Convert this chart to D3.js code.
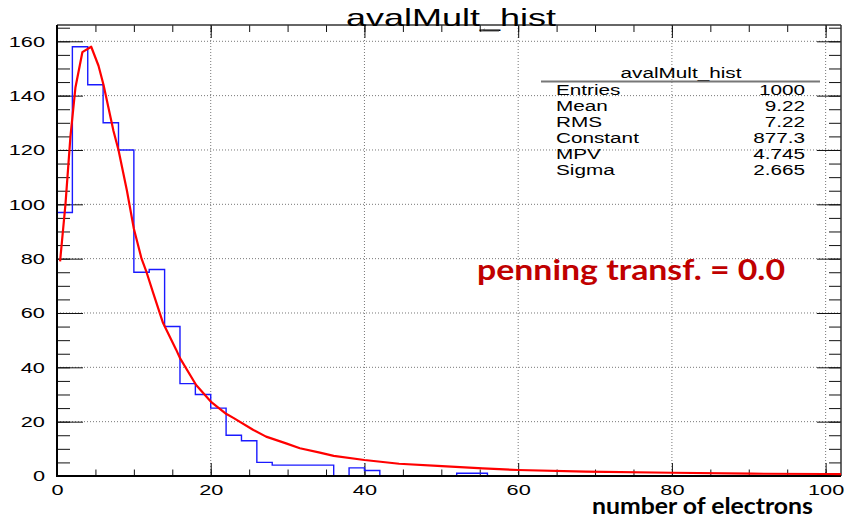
<!DOCTYPE html>
<html><head><meta charset="utf-8">
<script src="https://cdn.jsdelivr.net/npm/d3@7"></script>
<style>body{margin:0;background:#fff} text{font-family:"Liberation Sans",Arial,sans-serif}</style>
</head><body>
<svg id="c" width="846" height="520"></svg>
<script>
// ---------------- data ----------------
const histTitle = "avalMult_hist";
const binStart = 0, binWidth = 2;
const counts = [97,158,144,130,120,75,76,55,34,30,25,15,13,5,4,4,4,4,0,3,2,0,0,0,0,0,1,1,
  0,0,0,0,0,0,0,0,0,0,0,0,0,0,0,0,0,0,0,0,0,0,0];
const fitX = [0.4,1.1,1.75,2.4,3.3,4.45,5.4,6.05,7.35,8,9.1,10,11,11.65,12.5,13.8,15.5,16,18.1,20,22,23,25.5,27.2,29.8,31.6,34.2,36,40,44.5,49.5,55.4,60,68.8,80,90.4,100,102];
const fitY = [79,100,125,143,156,158,151,144,127,120,105,91,80,75,67.5,56.3,46.5,43.4,33.5,27.4,22.9,21.3,17,14.5,12,10.2,8.6,7.4,5.9,4.5,3.7,2.8,2.2,1.6,1.2,0.85,0.74,0.72];
const xTickLabels = [0,20,40,60,80,100];
const yTickLabels = [0,20,40,60,80,100,120,140,160];
const statLabels = ["Entries","Mean","RMS","Constant","MPV","Sigma"];
const statValues = ["1000","9.22","7.22","877.3","4.745","2.665"];
const xAxisTitle = "number of electrons";
const annotation = "penning transf. = 0.0";

// ---------------- layout ----------------
const svg = d3.select("#c");
const L = 57, R = 841, T = 25, B = 476;
const x = d3.scaleLinear().domain([0, 102]).range([L, R]);
const y = d3.scaleLinear().domain([0, 166]).range([B, T]);
const SX = 1.45;

// grid
const grid = svg.append("g").attr("stroke","#777").attr("stroke-width",1).attr("stroke-dasharray","1,2");
grid.selectAll("line.v").data(xTickLabels.filter(d=>d>0)).join("line")
  .attr("x1",d=>x(d)).attr("x2",d=>x(d)).attr("y1",T).attr("y2",B);
grid.selectAll("line.h").data(yTickLabels.filter(d=>d>0)).join("line")
  .attr("y1",d=>y(d)).attr("y2",d=>y(d)).attr("x1",L).attr("x2",R);

// minor tick values
const xMinor = d3.range(0, 101, 5);
const yMinor = d3.range(0, 166, 5);

function cleanAxis(g){ g.select(".domain").remove(); g.selectAll("line").attr("stroke","#111"); }

// left axis
svg.append("g").attr("transform",`translate(${L},0)`)
  .call(d3.axisLeft(y).tickValues(yMinor).tickSize(-13).tickFormat(""))
  .call(cleanAxis);
const gl = svg.append("g").attr("transform",`translate(${L},0)`)
  .call(d3.axisLeft(y).tickValues(yTickLabels).tickSize(-26).tickPadding(8.3).tickFormat(d3.format("d")))
  .call(cleanAxis);
gl.selectAll("text").attr("transform",`scale(${SX},1)`).style("font-size","15px").attr("fill","#000");

// right axis
svg.append("g").attr("transform",`translate(${R},0)`)
  .call(d3.axisRight(y).tickValues(yMinor).tickSize(-12).tickFormat(""))
  .call(cleanAxis);
svg.append("g").attr("transform",`translate(${R},0)`)
  .call(d3.axisRight(y).tickValues(yTickLabels).tickSize(-24).tickFormat(""))
  .call(cleanAxis);

// bottom axis
svg.append("g").attr("transform",`translate(0,${B})`)
  .call(d3.axisBottom(x).tickValues(xMinor).tickSize(-6.5).tickFormat(""))
  .call(cleanAxis);
const gb = svg.append("g").attr("transform",`translate(0,${B})`)
  .call(d3.axisBottom(x).tickValues(xTickLabels).tickSize(-13).tickPadding(8.5).tickFormat(d3.format("d")))
  .call(cleanAxis);
gb.selectAll("text").attr("transform",`scale(${SX},1)`).style("font-size","15px").attr("fill","#000");

// top axis
svg.append("g").attr("transform",`translate(0,${T})`)
  .call(d3.axisTop(x).tickValues(xMinor).tickSize(-7).tickFormat(""))
  .call(cleanAxis);
svg.append("g").attr("transform",`translate(0,${T})`)
  .call(d3.axisTop(x).tickValues(xTickLabels).tickSize(-13).tickFormat(""))
  .call(cleanAxis);

// frame
svg.append("line").attr("x1",L).attr("x2",R).attr("y1",T).attr("y2",T).attr("stroke","#333").attr("stroke-width",1.5);
svg.append("line").attr("x1",R).attr("x2",R).attr("y1",T).attr("y2",B).attr("stroke","#333").attr("stroke-width",1.5);

// histogram
const pts = [[binStart, 0]];
counts.forEach((c,i)=>{ const x0 = binStart + i*binWidth; pts.push([x0,c],[x0+binWidth,c]); });
pts.push([binStart + counts.length*binWidth, 0]);
svg.append("path").datum(pts)
  .attr("d", d3.line().x(d=>x(d[0])).y(d=>y(d[1])))
  .attr("fill","none").attr("stroke","#1a1aff").attr("stroke-width",1.4);

// axes lines (thick)
svg.append("line").attr("x1",L).attr("x2",L).attr("y1",T).attr("y2",B+1).attr("stroke","#000").attr("stroke-width",2);
svg.append("line").attr("x1",L).attr("x2",R).attr("y1",B).attr("y2",B).attr("stroke","#000").attr("stroke-width",2);

// fit curve
svg.append("path").datum(fitX.map((d,i)=>[d,fitY[i]]))
  .attr("d", d3.line().x(d=>x(d[0])).y(d=>y(d[1])))
  .attr("fill","none").attr("stroke","#ff0000").attr("stroke-width",2.2).attr("stroke-linejoin","round");

// text helper
function stext(str, px, py, size, sx, anchor){
  return svg.append("text").attr("transform",`translate(${px},${py}) scale(${sx},1)`)
    .attr("text-anchor",anchor).style("font-size",size+"px").attr("fill","#000").text(str);
}

// title
svg.append("rect").attr("x",340).attr("y",2).attr("width",222).attr("height",22).attr("fill","#fff");
stext(histTitle, 451, 26, 24, 1.5, "middle");
svg.append("path").attr("d","M481,31 L499,31 M481,31 L485,29").attr("stroke","#555").attr("stroke-width",1).attr("fill","none");

// stats box
stext(histTitle, 681, 78, 14, 1.48, "middle");
svg.append("line").attr("x1",541).attr("x2",820).attr("y1",81.5).attr("y2",81.5).attr("stroke","#777").attr("stroke-width",2);
const rowY = i => 95 + i*16;
statLabels.forEach((s,i)=> stext(s, 556, rowY(i), 14, 1.48, "start"));
statValues.forEach((s,i)=> stext(s, 805, rowY(i), 14, 1.48, "end"));

// annotation
svg.append("text").attr("x",477).attr("y",279.5).attr("textLength",308).attr("lengthAdjust","spacingAndGlyphs")
  .style("font-family","Lato, 'Open Sans', sans-serif").style("font-weight","bold").style("font-size","28px")
  .attr("fill","#c00000").text(annotation);

// x axis title
svg.append("text").attr("x",592).attr("y",514).attr("textLength",221).attr("lengthAdjust","spacingAndGlyphs")
  .style("font-family","Lato, 'Open Sans', sans-serif").style("font-weight","bold").style("font-size","23px")
  .attr("fill","#000").text(xAxisTitle);
</script>
</body></html>
